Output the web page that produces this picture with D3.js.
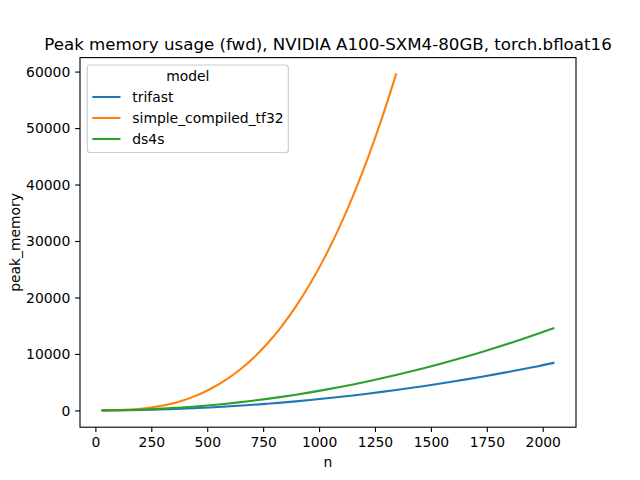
<!DOCTYPE html>
<html><head><meta charset="utf-8">
<script src="https://cdn.jsdelivr.net/npm/d3@7"></script>
<style>body{margin:0;background:#fff}svg{display:block}text{font-family:"DejaVu Sans",sans-serif;fill:#000}</style>
</head><body><svg id="c" width="640" height="480"></svg>
<script>
const title = "Peak memory usage (fwd), NVIDIA A100-SXM4-80GB, torch.bfloat16";
const xLabel = "n";
const yLabel = "peak_memory";
const legendTitle = "model";
const models = ["trifast", "simple_compiled_tf32", "ds4s"];
const colors = ["#1f77b4", "#ff7f0e", "#2ca02c"];
const nValues = [32,64,128,192,256,320,384,448,512,576,640,704,768,832,896,960,1024,1088,1152,1216,1280,1344,1408,1472,1536,1600,1664,1728,1792,1856,1920,1984,2048];
const trifast = [2,8,33,74,131,205,295,401,524,664,819,991,1180,1384,1606,1843,2097,2367,2654,2957,3277,3613,3965,4334,4719,5120,5538,5972,6423,6889,7373,7872,8420];
const simpleCompiled = [10,17,93,261,559,1020,1681,2576,3741,5211,7021,9207,11805,14848,18374,22416,27010,32192,37996,44459,51615,59500];
const ds4s = [4,14,57,128,227,355,512,696,910,1151,1421,1720,2047,2402,2786,3198,3639,4108,4605,5131,5685,6268,6879,7519,8187,8883,9608,10361,11143,11953,12792,13659,14554];
const xTicks = [0,250,500,750,1000,1250,1500,1750,2000];
const yTicks = [0,10000,20000,30000,40000,50000,60000];

const seriesVals = [trifast, simpleCompiled, ds4s];
const series = models.map((m,i)=>({name:m,color:colors[i],pts:seriesVals[i].map((v,j)=>({x:nValues[j],y:v}))}));

const svg = d3.select("#c");
const L=80, R=576, T=57.6, B=427.2;
const allX = series.flatMap(s=>s.pts.map(p=>p.x));
const allY = series.flatMap(s=>s.pts.map(p=>p.y));
const [x0,x1]=d3.extent(allX), [y0,y1]=d3.extent(allY);
const mx=(x1-x0)*0.05, my=(y1-y0)*0.05;
const x = d3.scaleLinear().domain([x0-mx,x1+mx]).range([L,R]);
const y = d3.scaleLinear().domain([y0-my,y1+my]).range([B,T]);

const g = svg.append("g");
const line = d3.line().x(d=>x(d.x)).y(d=>y(d.y)).curve(d3.curveMonotoneX);
series.forEach(s=>{
  g.append("path").datum(s.pts).attr("d",line).attr("fill","none")
   .attr("stroke",s.color).attr("stroke-width",2.08).attr("stroke-linecap","square");
});

const fs = 13.9;
const xa = svg.append("g").attr("transform",`translate(0,${B})`)
  .call(d3.axisBottom(x).tickValues(xTicks).tickSize(4.86).tickPadding(4.86).tickFormat(d3.format("d")));
const ya = svg.append("g").attr("transform",`translate(${L},0)`)
  .call(d3.axisLeft(y).tickValues(yTicks).tickSize(4.86).tickPadding(4.86).tickFormat(d3.format("d")));
[xa,ya].forEach(a=>{
  a.select(".domain").remove();
  a.selectAll(".tick line").attr("stroke","#000").attr("stroke-width",1.11);
  a.selectAll(".tick text").attr("font-size",fs).attr("font-family","DejaVu Sans").attr("fill","#000");
});
ya.selectAll(".tick text").attr("dy","0.33em");
xa.selectAll(".tick text").attr("dy","0.76em");

svg.append("rect").attr("x",L).attr("y",T).attr("width",R-L).attr("height",B-T)
  .attr("fill","none").attr("stroke","#000").attr("stroke-width",1.11);

svg.append("text").attr("x",(L+R)/2).attr("y",49.5).attr("text-anchor","middle")
  .attr("font-size",16.67).text(title);
svg.append("text").attr("x",(L+R)/2).attr("y",467).attr("text-anchor","middle")
  .attr("font-size",fs).text(xLabel);
svg.append("text").attr("transform",`translate(19.5,${(T+B)/2}) rotate(-90)`).attr("text-anchor","middle")
  .attr("font-size",fs).text(yLabel);

// legend
const lg = svg.append("g");
lg.append("rect").attr("x",87.3).attr("y",65).attr("width",201).attr("height",87.5).attr("rx",2.8)
  .attr("fill","#fff").attr("fill-opacity",0.8).attr("stroke","#cccccc").attr("stroke-width",1.11);
lg.append("text").attr("x",187.8).attr("y",76).attr("dy","0.35em").attr("text-anchor","middle")
  .attr("font-size",fs).text(legendTitle);
series.forEach((s,i)=>{
  const yy = 97 + i*21;
  lg.append("line").attr("x1",92.3).attr("x2",120.5).attr("y1",yy).attr("y2",yy)
    .attr("stroke",s.color).attr("stroke-width",2.08);
  lg.append("text").attr("x",132.3).attr("y",yy).attr("dy","0.35em").attr("font-size",fs).text(s.name);
});
</script></body></html>
